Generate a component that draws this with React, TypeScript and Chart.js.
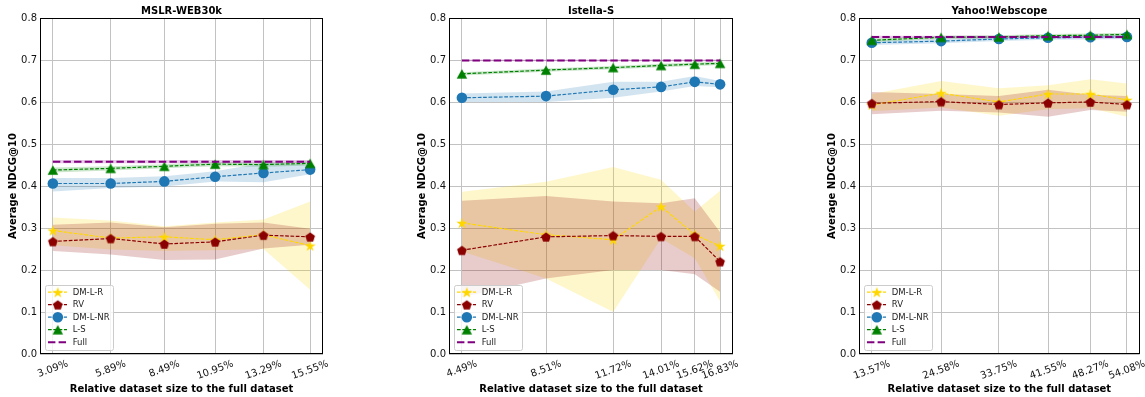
import React, { useEffect, useRef } from "react";
import { Chart, registerables } from "chart.js";
Chart.register(...registerables);

// ---------- data ----------
const SERIES_LABELS = ["DM-L-R", "RV", "DM-L-NR", "L-S", "Full"];
const Y_TICKS = [0, 0.1, 0.2, 0.3, 0.4, 0.5, 0.6, 0.7, 0.8];
const X_TITLE = "Relative dataset size to the full dataset";
const Y_TITLE = "Average NDCG@10";

// MSLR-WEB30k
const MSLR_X = [3.09, 5.89, 8.49, 10.95, 13.29, 15.55];
const MSLR_X_LABELS = ["3.09%", "5.89%", "8.49%", "10.95%", "13.29%", "15.55%"];
const MSLR_DMLR = [0.294, 0.276, 0.279, 0.272, 0.284, 0.258];
const MSLR_DMLR_HI = [0.325, 0.318, 0.304, 0.313, 0.32, 0.363];
const MSLR_DMLR_LO = [0.259, 0.249, 0.245, 0.247, 0.25, 0.153];
const MSLR_RV = [0.268, 0.275, 0.262, 0.267, 0.283, 0.279];
const MSLR_RV_HI = [0.308, 0.313, 0.302, 0.31, 0.313, 0.298];
const MSLR_RV_LO = [0.245, 0.237, 0.224, 0.225, 0.251, 0.26];
const MSLR_DMLNR = [0.406, 0.406, 0.411, 0.422, 0.431, 0.439];
const MSLR_DMLNR_HI = [0.419, 0.419, 0.423, 0.435, 0.455, 0.451];
const MSLR_DMLNR_LO = [0.387, 0.395, 0.399, 0.411, 0.409, 0.428];
const MSLR_LS = [0.438, 0.442, 0.447, 0.452, 0.451, 0.454];
const MSLR_LS_HI = [0.444, 0.447, 0.452, 0.457, 0.456, 0.459];
const MSLR_LS_LO = [0.432, 0.437, 0.442, 0.447, 0.446, 0.449];
const MSLR_FULL = [0.458, 0.458, 0.458, 0.458, 0.458, 0.458];
const MSLR_FULL_HI = [0.462, 0.462, 0.462, 0.462, 0.462, 0.462];
const MSLR_FULL_LO = [0.454, 0.454, 0.454, 0.454, 0.454, 0.454];

// Istella-S
const IST_X = [4.49, 8.51, 11.72, 14.01, 15.62, 16.83];
const IST_X_LABELS = ["4.49%", "8.51%", "11.72%", "14.01%", "15.62%", "16.83%"];
const IST_DMLR = [0.312, 0.284, 0.272, 0.351, 0.284, 0.257];
const IST_DMLR_HI = [0.386, 0.41, 0.445, 0.415, 0.339, 0.389];
const IST_DMLR_LO = [0.244, 0.18, 0.1, 0.275, 0.228, 0.125];
const IST_RV = [0.247, 0.279, 0.282, 0.28, 0.28, 0.22];
const IST_RV_HI = [0.365, 0.376, 0.363, 0.359, 0.371, 0.29];
const IST_RV_LO = [0.135, 0.18, 0.2, 0.2, 0.19, 0.148];
const IST_DMLNR = [0.61, 0.614, 0.629, 0.636, 0.648, 0.642];
const IST_DMLNR_HI = [0.62, 0.625, 0.648, 0.648, 0.662, 0.65];
const IST_DMLNR_LO = [0.6, 0.6, 0.61, 0.625, 0.638, 0.635];
const IST_LS = [0.667, 0.676, 0.682, 0.687, 0.69, 0.692];
const IST_LS_HI = [0.671, 0.68, 0.686, 0.691, 0.694, 0.696];
const IST_LS_LO = [0.663, 0.672, 0.678, 0.683, 0.686, 0.688];
const IST_FULL = [0.699, 0.699, 0.699, 0.699, 0.699, 0.699];
const IST_FULL_HI = [0.701, 0.701, 0.701, 0.701, 0.701, 0.701];
const IST_FULL_LO = [0.697, 0.697, 0.697, 0.697, 0.697, 0.697];

// Yahoo!Webscope
const YAH_X = [13.57, 24.58, 33.75, 41.55, 48.27, 54.08];
const YAH_X_LABELS = ["13.57%", "24.58%", "33.75%", "41.55%", "48.27%", "54.08%"];
const YAH_DMLR = [0.593, 0.621, 0.6, 0.619, 0.619, 0.605];
const YAH_DMLR_HI = [0.619, 0.65, 0.633, 0.64, 0.654, 0.644];
const YAH_DMLR_LO = [0.578, 0.587, 0.567, 0.583, 0.585, 0.565];
const YAH_RV = [0.597, 0.601, 0.594, 0.598, 0.6, 0.594];
const YAH_RV_HI = [0.624, 0.619, 0.614, 0.629, 0.617, 0.614];
const YAH_RV_LO = [0.571, 0.579, 0.575, 0.565, 0.581, 0.577];
const YAH_DMLNR = [0.741, 0.745, 0.75, 0.753, 0.754, 0.755];
const YAH_DMLNR_HI = [0.746, 0.75, 0.755, 0.758, 0.759, 0.76];
const YAH_DMLNR_LO = [0.736, 0.74, 0.745, 0.748, 0.749, 0.75];
const YAH_LS = [0.747, 0.754, 0.755, 0.758, 0.759, 0.761];
const YAH_LS_HI = [0.751, 0.758, 0.759, 0.762, 0.763, 0.765];
const YAH_LS_LO = [0.743, 0.75, 0.751, 0.754, 0.755, 0.757];
const YAH_FULL = [0.755, 0.755, 0.755, 0.755, 0.755, 0.755];
const YAH_FULL_HI = [0.758, 0.758, 0.758, 0.758, 0.758, 0.758];
const YAH_FULL_LO = [0.752, 0.752, 0.752, 0.752, 0.752, 0.752];

// ---------- styling / layout ----------
const H = 397;
const PLOT_TOP = 18;
const PLOT_BOTTOM = 354;
const FONT = "DejaVu Sans";

const STYLES = [
  { color: "#FFD700", marker: "star", full: false },
  { color: "#8B0000", marker: "pentagon", full: false },
  { color: "#1f77b4", marker: "circle", full: false },
  { color: "#008000", marker: "triangle", full: false },
  { color: "#800080", marker: "none", full: true },
];

const PANELS = [
  {
    title: "MSLR-WEB30k", x: MSLR_X, xLabels: MSLR_X_LABELS,
    series: [
      { mean: MSLR_DMLR, hi: MSLR_DMLR_HI, lo: MSLR_DMLR_LO },
      { mean: MSLR_RV, hi: MSLR_RV_HI, lo: MSLR_RV_LO },
      { mean: MSLR_DMLNR, hi: MSLR_DMLNR_HI, lo: MSLR_DMLNR_LO },
      { mean: MSLR_LS, hi: MSLR_LS_HI, lo: MSLR_LS_LO },
      { mean: MSLR_FULL, hi: MSLR_FULL_HI, lo: MSLR_FULL_LO },
    ],
    left: 0, width: 380, plotLeft: 40, plotRight: 323,
  },
  {
    title: "Istella-S", x: IST_X, xLabels: IST_X_LABELS,
    series: [
      { mean: IST_DMLR, hi: IST_DMLR_HI, lo: IST_DMLR_LO },
      { mean: IST_RV, hi: IST_RV_HI, lo: IST_RV_LO },
      { mean: IST_DMLNR, hi: IST_DMLNR_HI, lo: IST_DMLNR_LO },
      { mean: IST_LS, hi: IST_LS_HI, lo: IST_LS_LO },
      { mean: IST_FULL, hi: IST_FULL_HI, lo: IST_FULL_LO },
    ],
    left: 380, width: 380, plotLeft: 69, plotRight: 353,
  },
  {
    title: "Yahoo!Webscope", x: YAH_X, xLabels: YAH_X_LABELS,
    series: [
      { mean: YAH_DMLR, hi: YAH_DMLR_HI, lo: YAH_DMLR_LO },
      { mean: YAH_RV, hi: YAH_RV_HI, lo: YAH_RV_LO },
      { mean: YAH_DMLNR, hi: YAH_DMLNR_HI, lo: YAH_DMLNR_LO },
      { mean: YAH_LS, hi: YAH_LS_HI, lo: YAH_LS_LO },
      { mean: YAH_FULL, hi: YAH_FULL_HI, lo: YAH_FULL_LO },
    ],
    left: 760, width: 385, plotLeft: 99, plotRight: 382,
  },
];

function rgba(hex: string, a: number) {
  const n = parseInt(hex.slice(1), 16);
  return `rgba(${n >> 16},${(n >> 8) & 255},${n & 255},${a})`;
}

function makeCanvas(size: number) {
  const c = document.createElement("canvas");
  c.width = size;
  c.height = size;
  return c;
}

function makeStar(color: string, R: number) {
  const size = 14;
  const c = makeCanvas(size);
  const g = c.getContext("2d")!;
  const r = R * 0.382;
  g.fillStyle = color;
  g.beginPath();
  for (let k = 0; k < 10; k++) {
    const rad = k % 2 ? r : R;
    const a = -Math.PI / 2 + (k * Math.PI) / 5;
    g.lineTo(size / 2 + rad * Math.cos(a), size / 2 + 0.6 + rad * Math.sin(a));
  }
  g.closePath();
  g.fill();
  return c;
}

function makePentagon(color: string, R: number) {
  const size = 12;
  const c = makeCanvas(size);
  const g = c.getContext("2d")!;
  g.fillStyle = color;
  g.beginPath();
  for (let k = 0; k < 5; k++) {
    const a = -Math.PI / 2 + (k * 2 * Math.PI) / 5;
    g.lineTo(size / 2 + R * Math.cos(a), size / 2 + 0.5 + R * Math.sin(a));
  }
  g.closePath();
  g.fill();
  return c;
}

function makeTriangle(color: string, w: number, h: number) {
  const size = 12;
  const c = makeCanvas(size);
  const g = c.getContext("2d")!;
  g.fillStyle = color;
  g.beginPath();
  g.moveTo(size / 2, size / 2 - h / 2);
  g.lineTo(size / 2 + w / 2, size / 2 + h / 2);
  g.lineTo(size / 2 - w / 2, size / 2 + h / 2);
  g.closePath();
  g.fill();
  return c;
}

function makeMarkers(): any[] {
  return STYLES.map((s) => {
    if (s.marker === "star") return makeStar(s.color, 5.9);
    if (s.marker === "pentagon") return makePentagon(s.color, 5.1);
    if (s.marker === "triangle") return makeTriangle(s.color, 10.5, 9.5);
    if (s.marker === "circle") return "circle";
    return false;
  });
}

function drawMarker(ctx: CanvasRenderingContext2D, m: any, color: string, x: number, y: number) {
  if (!m) return;
  if (m === "circle") {
    ctx.fillStyle = color;
    ctx.beginPath();
    ctx.arc(x, y, 5.3, 0, Math.PI * 2);
    ctx.fill();
    return;
  }
  ctx.drawImage(m, x - m.width / 2, y - m.height / 2);
}

function makePlugin(panel: any, markers: any[]) {
  return {
    id: "mplDecor" + panel.title.replace(/\W/g, ""),
    afterDraw(chart: any) {
      const ctx: CanvasRenderingContext2D = chart.ctx;
      const { left, right, top, bottom } = chart.chartArea;
      const xs = chart.scales.x;
      ctx.save();
      // frame
      ctx.strokeStyle = "#000";
      ctx.lineWidth = 1;
      ctx.setLineDash([]);
      const x0 = Math.round(left) + 0.5, x1 = Math.round(right) - 0.5;
      const y0 = Math.round(top) + 0.5, y1 = Math.round(bottom) - 0.5;
      ctx.strokeRect(x0, y0, x1 - x0, y1 - y0);

      // title
      ctx.fillStyle = "#000";
      ctx.font = `bold 10px "${FONT}"`;
      ctx.textAlign = "center";
      ctx.textBaseline = "middle";
      ctx.fillText(panel.title, (left + right) / 2, 11);
      // x title
      ctx.fillText(X_TITLE, (left + right) / 2, 389);
      // y title
      ctx.save();
      ctx.translate(left - 27, (top + bottom) / 2);
      ctx.rotate(-Math.PI / 2);
      ctx.fillText(Y_TITLE, 0, 0);
      ctx.restore();

      // rotated x tick labels
      ctx.font = `10px "${FONT}"`;
      ctx.fillStyle = "#111";
      const th = (20 * Math.PI) / 180;
      panel.x.forEach((v: number, i: number) => {
        const lab = panel.xLabels[i];
        const px = xs.getPixelForValue(v);
        const w = ctx.measureText(lab).width;
        const bh = w * Math.sin(th) + 11.5 * Math.cos(th);
        const cy = bottom + 4.2 + bh / 2;
        ctx.save();
        ctx.translate(px, cy);
        ctx.rotate(-th);
        ctx.textAlign = "center";
        ctx.textBaseline = "middle";
        ctx.fillText(lab, 0, 0);
        ctx.restore();
      });

      // legend
      const bw = 68, bh = 65;
      const bl = left + 5, bt = bottom - 4 - bh;
      ctx.beginPath();
      (ctx as any).roundRect(bl + 0.5, bt + 0.5, bw, bh, 2);
      ctx.fillStyle = "rgba(255,255,255,0.8)";
      ctx.fill();
      ctx.strokeStyle = "#cccccc";
      ctx.lineWidth = 1;
      ctx.stroke();
      ctx.font = `8.5px "${FONT}"`;
      ctx.textAlign = "left";
      ctx.textBaseline = "middle";
      SERIES_LABELS.forEach((lab, i) => {
        const st = STYLES[i];
        const cy = bt + 7.2 + i * 12.5;
        ctx.strokeStyle = st.color;
        ctx.lineWidth = st.full ? 2 : 1.2;
        ctx.setLineDash(st.full ? [7.4, 3.2] : [3.7, 1.6]);
        ctx.beginPath();
        ctx.moveTo(bl + 3, cy);
        ctx.lineTo(bl + 22, cy);
        ctx.stroke();
        ctx.setLineDash([]);
        drawMarker(ctx, markers[i], st.color, bl + 12.8, cy);
        ctx.fillStyle = "#222";
        ctx.fillText(lab, bl + 27.7, cy + 0.5);
      });
      ctx.restore();
    },
  };
}

function toPts(xs: number[], ys: number[]) {
  return xs.map((x, i) => ({ x, y: ys[i] }));
}

function buildChart(canvas: HTMLCanvasElement, panel: any) {
  const markers = makeMarkers();
  const datasets: any[] = [];
  panel.series.forEach((s: any, i: number) => {
    const st = STYLES[i];
    datasets.push({
      label: SERIES_LABELS[i] + " upper",
      data: toPts(panel.x, s.hi),
      fill: "+1",
      backgroundColor: rgba(st.color, 0.2),
      borderColor: "rgba(0,0,0,0)",
      borderWidth: 0,
      pointRadius: 0,
      tension: 0,
      order: 20 - i,
    });
    datasets.push({
      label: SERIES_LABELS[i] + " lower",
      data: toPts(panel.x, s.lo),
      fill: false,
      borderColor: "rgba(0,0,0,0)",
      borderWidth: 0,
      pointRadius: 0,
      tension: 0,
      order: 20 - i,
    });
  });
  panel.series.forEach((s: any, i: number) => {
    const st = STYLES[i];
    datasets.push({
      label: SERIES_LABELS[i],
      data: toPts(panel.x, s.mean),
      fill: false,
      borderColor: st.color,
      backgroundColor: st.color,
      borderWidth: st.full ? 2 : 1.2,
      borderDash: st.full ? [7.4, 3.2] : [3.7, 1.6],
      pointStyle: markers[i] || "circle",
      pointRadius: st.full ? 0 : 5.3,
      pointBorderWidth: 0,
      tension: 0,
      order: 10 - i,
    });
  });

  const x0 = panel.x[0];
  const xn = panel.x[panel.x.length - 1];
  const margin = (xn - x0) * 0.05;
  const yAxisW = 30;

  return new Chart(canvas, {
    type: "line",
    data: { datasets },
    options: {
      animation: false,
      responsive: false,
      devicePixelRatio: 1,
      events: [],
      layout: {
        padding: {
          left: panel.plotLeft - yAxisW,
          right: panel.width - panel.plotRight,
          top: PLOT_TOP,
          bottom: 0,
        },
      },
      plugins: { legend: { display: false }, tooltip: { enabled: false }, title: { display: false } },
      scales: {
        x: {
          type: "linear",
          min: x0 - margin,
          max: xn + margin,
          afterBuildTicks: (s: any) => {
            s.ticks = panel.x.map((v: number) => ({ value: v }));
          },
          afterFit: (s: any) => {
            s.height = H - PLOT_BOTTOM;
          },
          ticks: { display: false },
          grid: { color: "#c2c2c2", lineWidth: 1, drawTicks: false },
          border: { display: false },
        },
        y: {
          type: "linear",
          min: 0,
          max: 0.8,
          afterBuildTicks: (s: any) => {
            s.ticks = Y_TICKS.map((v) => ({ value: v }));
          },
          afterFit: (s: any) => {
            s.width = yAxisW;
          },
          ticks: {
            callback: (v: any) => Number(v).toFixed(1),
            font: { family: FONT, size: 10 },
            color: "#111",
            padding: 3,
          },
          grid: { color: "#c2c2c2", lineWidth: 1, drawTicks: false },
          border: { display: false },
        },
      },
    },
    plugins: [makePlugin(panel, markers)],
  } as any);
}

export default function App() {
  const refs = [useRef<HTMLCanvasElement>(null), useRef<HTMLCanvasElement>(null), useRef<HTMLCanvasElement>(null)];
  useEffect(() => {
    const charts = PANELS.map((p, i) => buildChart(refs[i].current!, p));
    return () => charts.forEach((c) => c.destroy());
  }, []);
  return (
    <div style={{ position: "absolute", left: 0, top: 0, width: 1145, height: H, background: "#fff" }}>
      {PANELS.map((p, i) => (
        <canvas
          key={p.title}
          ref={refs[i]}
          width={p.width}
          height={H}
          style={{ position: "absolute", left: p.left, top: 0, width: p.width, height: H }}
        />
      ))}
    </div>
  );
}
